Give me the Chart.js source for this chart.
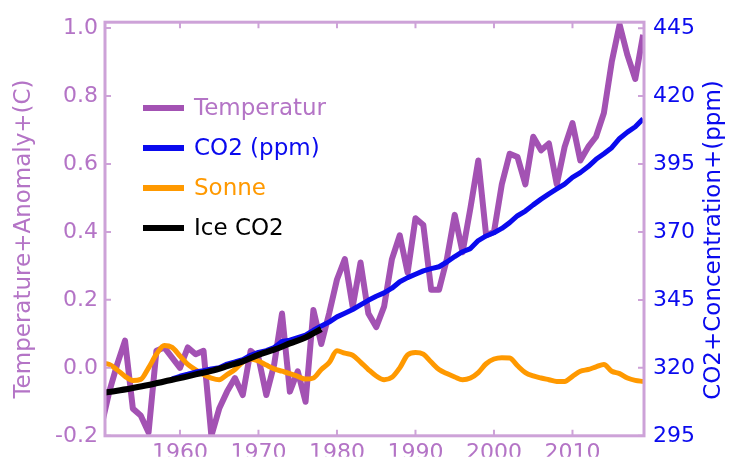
<!DOCTYPE html>
<html lang="de">
<head>
<meta charset="UTF-8">
<title>Temperatur, CO2 und Sonne</title>
<style>
    body { margin: 0; background: #ffffff; }
    #wrap { width: 729px; height: 458px; }
</style>
<script src="https://cdn.jsdelivr.net/npm/chart.js"></script>
</head>
<body>
<div id="wrap"><canvas id="chart" width="729" height="458"></canvas></div>
<script>
// Years 1950..2019 (temperature and sun)
const years = [1950, 1951, 1952, 1953, 1954, 1955, 1956, 1957, 1958, 1959,
    1960, 1961, 1962, 1963, 1964, 1965, 1966, 1967, 1968, 1969,
    1970, 1971, 1972, 1973, 1974, 1975, 1976, 1977, 1978, 1979,
    1980, 1981, 1982, 1983, 1984, 1985, 1986, 1987, 1988, 1989,
    1990, 1991, 1992, 1993, 1994, 1995, 1996, 1997, 1998, 1999,
    2000, 2001, 2002, 2003, 2004, 2005, 2006, 2007, 2008, 2009,
    2010, 2011, 2012, 2013, 2014, 2015, 2016, 2017, 2018, 2019];

// Temperature anomaly (C)
const tempValues = [-0.17, -0.07, 0.01, 0.08, -0.12, -0.14, -0.19, 0.05, 0.06, 0.03,
    0.00, 0.06, 0.04, 0.05, -0.20, -0.12, -0.07, -0.03, -0.08, 0.05,
    0.03, -0.08, 0.01, 0.16, -0.07, -0.01, -0.10, 0.17, 0.07, 0.16,
    0.26, 0.32, 0.18, 0.31, 0.16, 0.12, 0.18, 0.32, 0.39, 0.28,
    0.44, 0.42, 0.23, 0.23, 0.32, 0.45, 0.34, 0.47, 0.61, 0.39,
    0.40, 0.54, 0.63, 0.62, 0.54, 0.68, 0.64, 0.66, 0.54, 0.65,
    0.72, 0.61, 0.65, 0.68, 0.75, 0.90, 1.01, 0.92, 0.85, 0.98];

// Sun (plotted on the temperature axis)
const sunValues = [0.014, 0.010, -0.006, -0.025, -0.037, -0.034, 0.000, 0.040, 0.066, 0.060,
    0.035, 0.010, -0.006, -0.020, -0.030, -0.035, -0.020, -0.005, 0.017, 0.026,
    0.020, 0.008, -0.003, -0.010, -0.017, -0.025, -0.033, -0.030, -0.005, 0.015,
    0.050, 0.043, 0.037, 0.017, -0.005, -0.024, -0.035, -0.028, 0.000, 0.038,
    0.045, 0.040, 0.017, -0.005, -0.017, -0.027, -0.035, -0.030, -0.014, 0.012,
    0.026, 0.030, 0.029, 0.006, -0.014, -0.024, -0.030, -0.035, -0.040, -0.040,
    -0.025, -0.010, -0.005, 0.003, 0.010, -0.010, -0.017, -0.030, -0.037, -0.040];

// Mauna Loa CO2 (ppm), 1959..2019
const co2Years = [1959, 1960, 1961, 1962, 1963, 1964, 1965, 1966, 1967, 1968, 1969,
    1970, 1971, 1972, 1973, 1974, 1975, 1976, 1977, 1978, 1979,
    1980, 1981, 1982, 1983, 1984, 1985, 1986, 1987, 1988, 1989,
    1990, 1991, 1992, 1993, 1994, 1995, 1996, 1997, 1998, 1999,
    2000, 2001, 2002, 2003, 2004, 2005, 2006, 2007, 2008, 2009,
    2010, 2011, 2012, 2013, 2014, 2015, 2016, 2017, 2018, 2019];
const co2Values = [315.98, 316.91, 317.64, 318.45, 318.99, 319.62, 320.04, 321.38, 322.16, 323.04, 324.62,
    325.68, 326.32, 327.46, 329.68, 330.19, 331.13, 332.03, 333.84, 335.41, 336.84,
    338.76, 340.12, 341.48, 343.15, 344.87, 346.35, 347.61, 349.31, 351.69, 353.20,
    354.45, 355.70, 356.54, 357.21, 358.96, 360.97, 362.74, 363.88, 366.84, 368.54,
    369.71, 371.32, 373.45, 375.98, 377.70, 379.98, 382.09, 384.02, 385.83, 387.64,
    390.10, 391.85, 394.06, 396.74, 398.81, 401.01, 404.41, 406.76, 408.72, 411.66];

// Ice core CO2 (ppm)
const iceYears = [1950, 1952, 1954, 1956, 1958, 1960, 1962, 1964, 1966, 1968, 1970, 1972, 1974, 1976, 1978];
const iceValues = [310.8, 311.6, 312.6, 313.7, 315.0, 316.2, 317.6, 318.9, 320.6, 322.4, 324.8, 326.7, 329.0, 331.2, 334.3];

const xTicks = [1960, 1970, 1980, 1990, 2000, 2010];
const leftTicks = [-0.2, 0.0, 0.2, 0.4, 0.6, 0.8, 1.0];
const rightTicks = [295, 320, 345, 370, 395, 420, 445];

const PURPLE = '#a352b3';
const PURPLE_TEXT = '#b474c6';
const FRAME = '#cda2d8';
const BLUE = '#0a0aee';
const ORANGE = '#ff9900';
const FONT = '"DejaVu Sans", sans-serif';

function pairs(xs, ys) {
    return xs.map((x, i) => ({ x: x, y: ys[i] }));
}

// frame, inward ticks, axis titles and legend
const framePlugin = {
    id: 'framePlugin',
    afterDatasetsDraw(chart) {
        const ctx = chart.ctx;
        const a = chart.chartArea;
        const sx = chart.scales.x, sy = chart.scales.y, sy2 = chart.scales.y2;
        ctx.save();
        ctx.strokeStyle = FRAME;
        ctx.lineWidth = 3;
        ctx.strokeRect(a.left, a.top, a.right - a.left, a.bottom - a.top);
        ctx.lineWidth = 2;
        ctx.beginPath();
        xTicks.forEach(v => {
            const px = sx.getPixelForValue(v);
            ctx.moveTo(px, a.top); ctx.lineTo(px, a.top + 6);
            ctx.moveTo(px, a.bottom); ctx.lineTo(px, a.bottom - 6);
        });
        leftTicks.forEach(v => {
            const py = sy.getPixelForValue(v);
            ctx.moveTo(a.left, py); ctx.lineTo(a.left + 6, py);
        });
        rightTicks.forEach(v => {
            const py = sy2.getPixelForValue(v);
            ctx.moveTo(a.right, py); ctx.lineTo(a.right - 6, py);
        });
        ctx.stroke();
        ctx.restore();
    },
    afterDraw(chart) {
        const ctx = chart.ctx;
        ctx.save();
        ctx.font = '23px ' + FONT;
        ctx.textAlign = 'center';
        ctx.textBaseline = 'middle';
        // left title
        ctx.save();
        ctx.translate(24, 239);
        ctx.rotate(-Math.PI / 2);
        ctx.fillStyle = PURPLE_TEXT;
        ctx.fillText('Temperature+Anomaly+(C)', 0, 0);
        ctx.restore();
        // right title (reads bottom to top)
        ctx.save();
        ctx.translate(714, 240);
        ctx.rotate(-Math.PI / 2);
        ctx.fillStyle = BLUE;
        ctx.fillText('CO2+Concentration+(ppm)', 0, 0);
        ctx.restore();

        // legend
        const textColors = [PURPLE_TEXT, BLUE, ORANGE, '#000000'];
        ctx.textAlign = 'left';
        chart.data.datasets.forEach((ds, i) => {
            const y = 108 + i * 40;
            ctx.strokeStyle = ds.borderColor;
            ctx.lineWidth = 6;
            ctx.beginPath();
            ctx.moveTo(143, y);
            ctx.lineTo(184, y);
            ctx.stroke();
            ctx.fillStyle = textColors[i];
            ctx.fillText(ds.label, 194, y + 1);
        });
        ctx.restore();
    }
};

new Chart(document.getElementById('chart'), {
    type: 'line',
    data: {
        datasets: [
            { label: 'Temperatur', data: pairs(years, tempValues), yAxisID: 'y',
              borderColor: PURPLE, borderWidth: 6, tension: 0, order: 4 },
            { label: 'CO2 (ppm)', data: pairs(co2Years, co2Values), yAxisID: 'y2',
              borderColor: BLUE, borderWidth: 5, tension: 0, order: 2 },
            { label: 'Sonne', data: pairs(years, sunValues), yAxisID: 'y',
              borderColor: ORANGE, borderWidth: 5, cubicInterpolationMode: 'monotone', order: 3 },
            { label: 'Ice CO2', data: pairs(iceYears, iceValues), yAxisID: 'y2',
              borderColor: '#000000', borderWidth: 6, cubicInterpolationMode: 'monotone', order: 1 }
        ]
    },
    options: {
        responsive: false,
        devicePixelRatio: 1,
        animation: false,
        layout: { padding: { top: 16, left: 0, right: 0, bottom: 0 } },
        elements: { point: { radius: 0 }, line: { borderCapStyle: 'butt', borderJoinStyle: 'round' } },
        datasets: { line: { clip: 0 } },
        plugins: { legend: { display: false }, tooltip: { enabled: false } },
        scales: {
            x: {
                type: 'linear',
                position: 'bottom',
                min: 1950.45,
                max: 2019.11,
                grid: { display: false, drawTicks: false },
                border: { display: false },
                afterBuildTicks: s => { s.ticks = xTicks.map(v => ({ value: v })); },
                afterFit: s => { s.height = 21; },
                ticks: {
                    color: PURPLE_TEXT,
                    font: { family: FONT, size: 22 },
                    padding: 4,
                    maxRotation: 0,
                    autoSkip: false,
                    callback: v => String(v)
                }
            },
            y: {
                type: 'linear',
                position: 'left',
                min: -0.2,
                max: 1.017,
                grid: { display: false, drawTicks: false },
                border: { display: false },
                afterBuildTicks: s => { s.ticks = leftTicks.map(v => ({ value: v })); },
                afterFit: s => { s.width = 105; },
                ticks: {
                    color: PURPLE_TEXT,
                    font: { family: FONT, size: 22 },
                    padding: 7,
                    callback: v => v.toFixed(1)
                }
            },
            y2: {
                type: 'linear',
                position: 'right',
                min: 295,
                max: 447.2,
                grid: { display: false, drawTicks: false },
                border: { display: false },
                afterBuildTicks: s => { s.ticks = rightTicks.map(v => ({ value: v })); },
                afterFit: s => { s.width = 85; },
                ticks: {
                    color: BLUE,
                    font: { family: FONT, size: 22 },
                    padding: 9,
                    callback: v => String(v)
                }
            }
        }
    },
    plugins: [framePlugin]
});
</script>
</body>
</html>
